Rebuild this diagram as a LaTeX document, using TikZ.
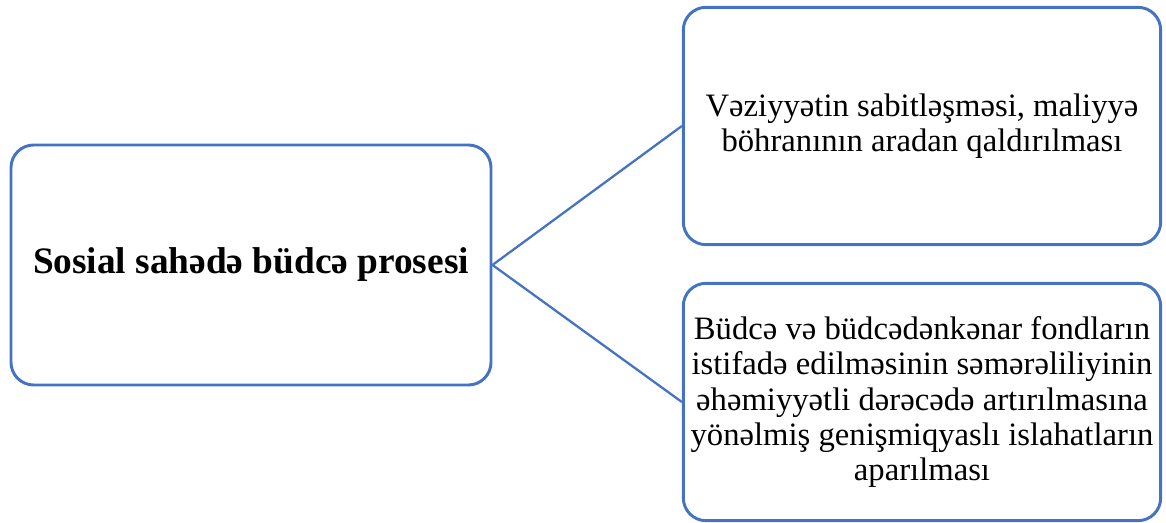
\documentclass[tikz,border=0pt]{standalone}
\usepackage{fontspec}
\setmainfont{Liberation Serif}
\usepackage{tikz}
\definecolor{boxblue}{HTML}{4472C4}

\begin{document}
\begin{tikzpicture}[x=0.75pt,y=-0.75pt,thick]

  % styles
  \tikzstyle{block}=[draw=boxblue,line width=2.2pt,rounded corners=17pt,align=center,inner sep=0pt,
    font=\fontsize{24.5}{26.3}\selectfont]
  \tikzstyle{link}=[draw=boxblue,line width=1.7pt]

  \useasboundingbox (0,0) rectangle (1166,523);

  % boxes
  \node[block,minimum width=360pt,minimum height=180pt,font=\fontsize{28}{32}\selectfont\bfseries] (sosial) at (251,265)
    {Sosial sahədə büdcə prosesi};
  \node[block,minimum width=358pt,minimum height=178pt] (veziyyet) at (922,126)
    {Vəziyyətin sabitləşməsi, maliyyə\\
     böhranının aradan qaldırılması};
  \node[block,minimum width=358pt,minimum height=178pt] (islahat) at (922,402)
    {Büdcə və büdcədənkənar fondların\\
     istifadə edilməsinin səmərəliliyinin\\
     əhəmiyyətli dərəcədə artırılmasına\\
     yönəlmiş genişmiqyaslı islahatların\\
     aparılması};

  % connectors
  \draw[link] (sosial.east) -- (veziyyet.west);
  \draw[link] (sosial.east) -- (islahat.west);

\end{tikzpicture}
\end{document}
